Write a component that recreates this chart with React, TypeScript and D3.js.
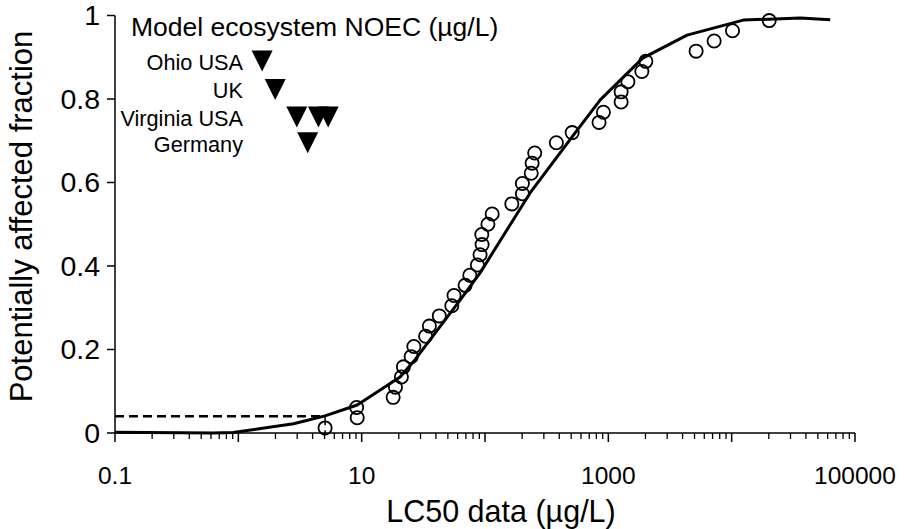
import React from "react";
import * as d3 from "d3";

// LC50 data (µg/L) and plotting positions
const lc50 = [5.05, 9.2, 9.1, 18.0, 18.8, 21.0, 21.8, 25.2, 26.5, 33.0, 35.4, 42.6, 53.8, 56.1, 69.0, 75.3, 86.7, 91.2, 94.7, 94.2, 105.6, 114.3, 165, 201, 201, 237, 241, 253, 379, 509, 841, 912, 1270, 1270, 1440, 1870, 2015, 5150, 7210, 10160, 20150];
const fraction = [0.0122, 0.0366, 0.061, 0.0854, 0.1098, 0.1341, 0.1585, 0.1829, 0.2073, 0.2317, 0.2561, 0.2805, 0.3049, 0.3293, 0.3537, 0.378, 0.4024, 0.4268, 0.4512, 0.4756, 0.5, 0.5244, 0.5488, 0.5732, 0.5976, 0.622, 0.6463, 0.6707, 0.6951, 0.7195, 0.7439, 0.7683, 0.7927, 0.8171, 0.8415, 0.8659, 0.8902, 0.9146, 0.939, 0.9634, 0.9878];

// fitted SSD curve
const curveX = [0.1, 0.62, 0.91, 2.8, 5.05, 9.2, 20.5, 27, 63, 91, 232, 538, 860, 1900, 4350, 12400, 36000, 63000];
const curveY = [0.002, 0.0, 0.001, 0.022, 0.041, 0.067, 0.134, 0.175, 0.319, 0.383, 0.575, 0.719, 0.798, 0.898, 0.953, 0.989, 0.994, 0.99];

// HC5
const hc5X = 5.05;
const hc5Y = 0.04;

// Model ecosystem NOECs
const noecSites = ["Ohio USA", "UK", "Virginia USA", "Germany"];
const noecRowY = [0.891, 0.823, 0.757, 0.695];
const noecValues = [[1.56], [1.99], [2.98, 4.46, 5.35], [3.65]];

const xTickLabels = [0.1, 10, 1000, 100000];
const yTicks = [0, 0.2, 0.4, 0.6, 0.8, 1];

const FONT = "'Liberation Sans', Arial, Helvetica, sans-serif";

export default function App() {
  const x = d3.scaleLog().domain([0.1, 100000]).range([115, 855]);
  const y = d3.scaleLinear().domain([0, 1]).range([433, 15.5]);

  const decades = d3.range(-1, 6).map((e) => Math.pow(10, e));
  const minor: number[] = [];
  decades.slice(0, -1).forEach((d) => {
    for (let k = 2; k <= 9; k++) minor.push(d * k);
  });

  const line = d3
    .line<number>()
    .x((_, i) => x(curveX[i]))
    .y((v) => y(v));

  const tri = (cx: number, cy: number) =>
    `M${cx - 10.5},${cy - 10.5}L${cx + 10.5},${cy - 10.5}L${cx},${cy + 10.5}Z`;

  return (
    <svg
      width={906}
      height={529}
      style={{ position: "absolute", left: 0, top: 0, background: "#fff" }}
      fontFamily={FONT}
    >
      <rect width={906} height={529} fill="#fff" />
      {/* axes */}
      <line x1={x(0.1)} x2={x(100000)} y1={y(0)} y2={y(0)} stroke="#000" strokeWidth={1.5} />
      <line x1={x(0.1)} x2={x(0.1)} y1={y(0)} y2={y(1)} stroke="#000" strokeWidth={1.5} />
      {decades.map((d) => (
        <line key={"M" + d} x1={x(d)} x2={x(d)} y1={y(0)} y2={y(0) + 9} stroke="#000" strokeWidth={1.5} />
      ))}
      {minor.map((d, i) => (
        <line key={"m" + i} x1={x(d)} x2={x(d)} y1={y(0)} y2={y(0) + 6} stroke="#000" strokeWidth={1.3} />
      ))}
      {yTicks.map((t) => (
        <line key={"yt" + t} x1={x(0.1) - 8} x2={x(0.1)} y1={y(t)} y2={y(t)} stroke="#000" strokeWidth={1.5} />
      ))}
      {yTicks.map((t) => (
        <text key={"yl" + t} x={100} y={y(t)} dy="0.35em" textAnchor="end" fontSize={28.5} fill="#000">
          {String(t)}
        </text>
      ))}
      {xTickLabels.map((t) => (
        <text key={"xl" + t} x={x(t)} y={484} textAnchor="middle" fontSize={24.5} fill="#000">
          {String(t)}
        </text>
      ))}
      <text x={501} y={522} textAnchor="middle" fontSize={30.5} fill="#000">
        LC50 data (µg/L)
      </text>
      <text
        transform={`translate(32,${(28 + 405) / 2}) rotate(-90)`}
        textAnchor="middle"
        fontSize={31}
        fill="#000"
      >
        Potentially affected fraction
      </text>

      {/* HC5 dashed */}
      <line x1={x(0.1)} x2={x(hc5X)} y1={y(hc5Y)} y2={y(hc5Y)} stroke="#000" strokeWidth={2.4} strokeDasharray="9,5" />
      <line x1={x(hc5X)} x2={x(hc5X)} y1={y(hc5Y)} y2={y(0)} stroke="#000" strokeWidth={1.5} strokeDasharray="9,5" />

      {/* curve */}
      <path d={line(curveY) || ""} fill="none" stroke="#000" strokeWidth={3} strokeLinejoin="round" />

      {/* data points */}
      {lc50.map((v, i) => (
        <circle key={"c" + i} cx={x(v)} cy={y(fraction[i])} r={6.6} fill="none" stroke="#000" strokeWidth={1.8} />
      ))}

      {/* NOEC legend */}
      <text x={131} y={36} fontSize={26.5} fill="#000">
        Model ecosystem NOEC (µg/L)
      </text>
      {noecSites.map((s, i) => (
        <g key={s}>
          <text x={243} y={y(noecRowY[i]) + 9} textAnchor="end" fontSize={21.7} fill="#000">
            {s}
          </text>
          {noecValues[i].map((v, j) => (
            <path key={j} d={tri(x(v), y(noecRowY[i]))} fill="#000" />
          ))}
        </g>
      ))}
    </svg>
  );
}
